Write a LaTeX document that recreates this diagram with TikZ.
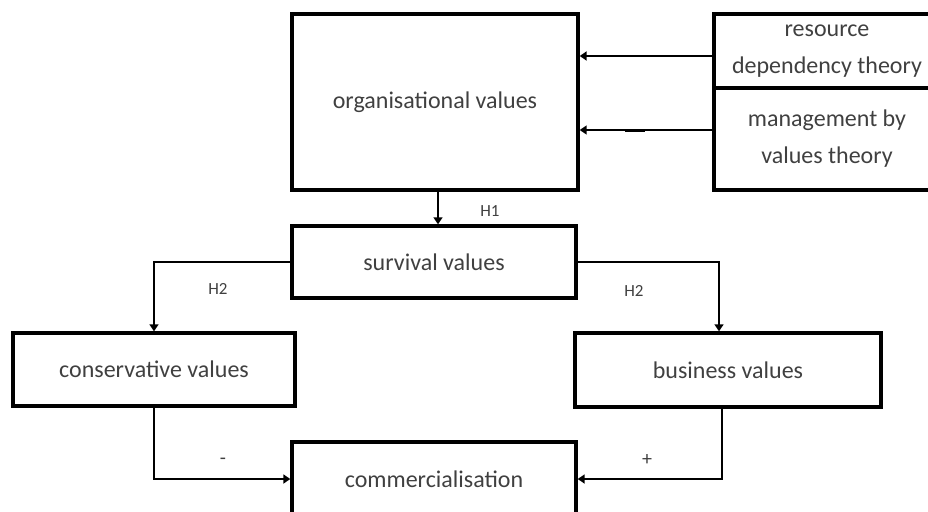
\documentclass[tikz,border=0pt]{standalone}
\usepackage{fontspec}
\setmainfont{Carlito}
\usetikzlibrary{arrows.meta}

\begin{document}
\begin{tikzpicture}[x=1pt, y=-1pt, >={Triangle[width=9pt,length=7pt]},
    caja/.style={draw, line width=3.4pt, inner sep=0pt, align=center,
      text=black!75, font=\fontsize{24}{37}\selectfont},
    flecha/.style={->, line width=1.6pt},
    etiq/.style={text=black!75, font=\fontsize{17}{20}\selectfont}]

  \useasboundingbox (0,0) rectangle (928,511);

  % Cajas
  \node[caja, minimum width=286pt, minimum height=176pt] (org) at (435,102) {organisational values};
  \node[caja, minimum width=226pt, minimum height=74pt] (rdt) at (827,51) {resource\\dependency theory};
  \node[caja, minimum width=226pt, minimum height=102pt] (mbv) at (827,139) {management by\\values theory};
  \node[caja, minimum width=284pt, minimum height=72pt] (surv) at (434,262) {survival values};
  \node[caja, minimum width=282pt, minimum height=73pt] (cons) at (154,369.5) {conservative values};
  \node[caja, minimum width=306pt, minimum height=74pt] (bus) at (728,370) {business values};
  \node[caja, minimum width=284pt, minimum height=74pt] (comm) at (434,479) {commercialisation};

  % Teorias
  \draw[flecha, line width=2.6pt] ([yshift=-5pt]rdt.west) -- ([yshift=-5pt]rdt.west -| org.east);
  \draw[flecha] ([yshift=9pt]mbv.west) -- ([yshift=9pt]mbv.west -| org.east);
  \draw[line width=3pt] (625,130) -- (645,130);

  % Hipotesis
  \draw[flecha] ([xshift=3pt]org.south) -- ([xshift=3pt]org.south |- surv.north);
  \node[etiq] (h1) at (490,211) {H1};
  \draw[flecha] (surv.west) -| (cons.north);
  \node[etiq] (h2a) at (218,289) {H2};
  \draw[flecha] (surv.east) -| ([xshift=-9pt]bus.north);
  \node[etiq] (h2b) at (634,291) {H2};

  % Efectos sobre commercialisation
  \draw[flecha, line width=2.2pt] (cons.south) |- (comm.west);
  \node[etiq, font=\fontsize{20}{22}\selectfont] (menos) at (223,461) {-};
  \draw[flecha, line width=2.2pt] ([xshift=-6pt]bus.south) |- (comm.east);
  \node[etiq, font=\fontsize{20}{22}\selectfont] (mas) at (647,460) {+};

\end{tikzpicture}
\end{document}
